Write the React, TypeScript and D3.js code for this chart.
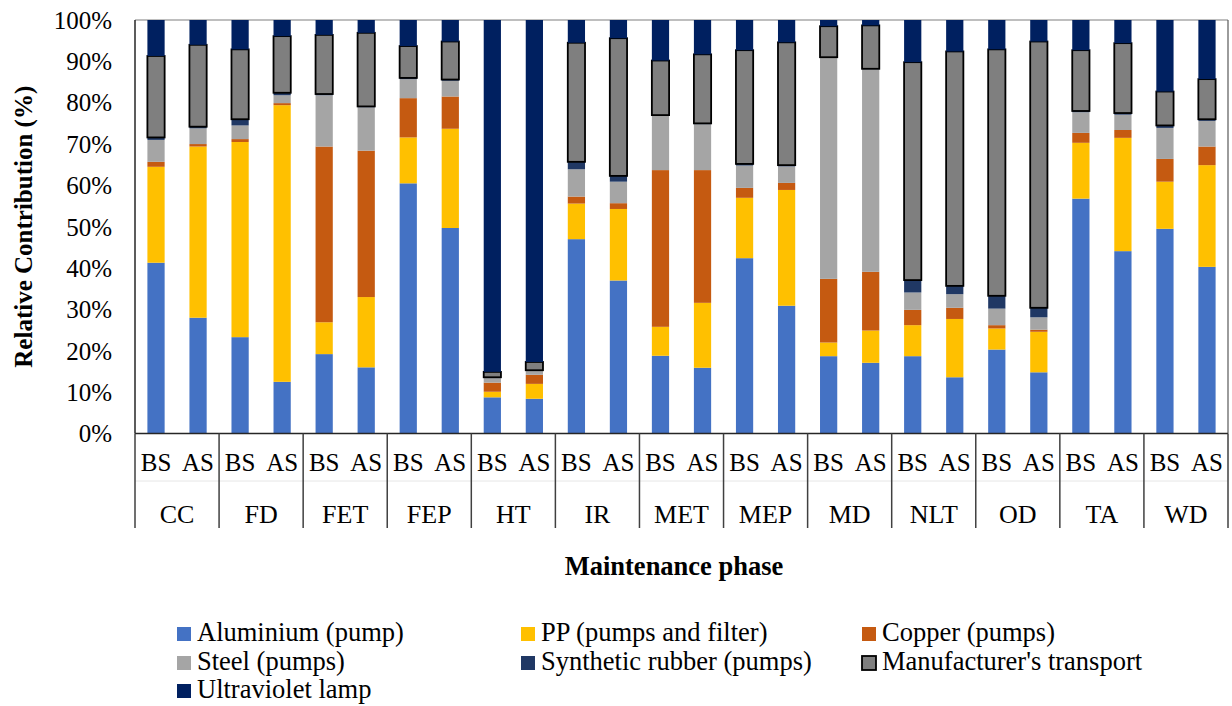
import React from "react";
import * as d3 from "d3";

const categories = ["CC", "FD", "FET", "FEP", "HT", "IR", "MET", "MEP", "MD", "NLT", "OD", "TA", "WD"];
const phases = ["BS", "AS"];
const seriesNames = [
  "Aluminium (pump)",
  "PP (pumps and filter)",
  "Copper (pumps)",
  "Steel (pumps)",
  "Synthetic rubber (pumps)",
  "Manufacturer's transport",
  "Ultraviolet lamp",
];
const seriesColors = ["#4472C4", "#FFC000", "#C55A11", "#A5A5A5", "#203864", "#7F7F7F", "#002060"];
const yTicks = [0, 0.1, 0.2, 0.3, 0.4, 0.5, 0.6, 0.7, 0.8, 0.9, 1.0];

// values per bar, order: CC BS, CC AS, FD BS, FD AS, ...
const aluminium = [41.3, 28.0, 23.3, 12.5, 19.2, 16.0, 60.5, 49.7, 8.75, 8.4, 47.0, 37.0, 18.8, 15.9, 42.4, 30.9, 18.7, 17.1, 18.7, 13.6, 20.3, 14.8, 56.8, 44.1, 49.5, 40.3];
const pp = [23.2, 41.4, 47.2, 66.9, 7.7, 17.0, 11.1, 24.0, 1.35, 3.6, 8.6, 17.3, 7.0, 15.7, 14.6, 28.0, 3.3, 7.8, 7.5, 14.1, 5.1, 9.8, 13.5, 27.4, 11.4, 24.6];
const copper = [1.2, 0.6, 0.7, 0.5, 42.5, 35.4, 9.5, 7.8, 2.2, 2.2, 1.7, 1.4, 37.9, 32.1, 2.4, 1.7, 15.4, 14.2, 3.7, 2.7, 0.8, 0.5, 2.4, 1.9, 5.5, 4.5];
const steel = [5.3, 3.8, 3.3, 1.9, 12.4, 10.5, 4.6, 3.8, 1.1, 1.0, 6.6, 5.2, 13.1, 11.1, 5.4, 4.0, 53.5, 49.0, 4.2, 3.3, 4.0, 3.0, 5.0, 3.7, 7.5, 6.2];
const rubber = [0.6, 0.4, 1.5, 0.6, 0.3, 0.2, 0.3, 0.3, 0.2, 0.1, 1.8, 1.4, 0.2, 0.2, 0.4, 0.3, 0.1, 0.1, 3.0, 2.0, 3.1, 2.3, 0.3, 0.4, 0.6, 0.4];
const transport = [19.7, 19.8, 16.9, 13.7, 14.3, 17.8, 7.7, 9.2, 1.3, 2.0, 28.8, 33.3, 13.2, 16.7, 27.5, 29.7, 7.5, 10.5, 52.7, 56.7, 59.6, 64.4, 14.7, 16.9, 8.2, 9.7];
const uvLamp = [8.7, 6.0, 7.1, 3.9, 3.6, 3.1, 6.3, 5.2, 85.1, 82.7, 5.5, 4.4, 9.8, 8.3, 7.3, 5.4, 1.5, 1.3, 10.2, 7.6, 7.1, 5.2, 7.3, 5.6, 17.3, 14.3];

const seriesValues = [aluminium, pp, copper, steel, rubber, transport, uvLamp];

const W = 1232;
const H = 706;
const left = 135;
const right = 1228;
const top = 20;
const bottom = 433.5;
const FONT = '"Liberation Serif", "Times New Roman", Times, "DejaVu Serif", serif';

export default function App() {
  const barKeys: string[] = [];
  categories.forEach((c) => phases.forEach((p) => barKeys.push(c + "|" + p)));

  const rows = barKeys.map((k, i) => {
    const r: any = { key: k };
    seriesNames.forEach((s, j) => (r[s] = seriesValues[j][i]));
    return r;
  });

  const stack = d3.stack<any>().keys(seriesNames).offset(d3.stackOffsetExpand);
  const layers = stack(rows);

  const xBar = d3.scaleBand<string>().domain(barKeys).range([left, right]).paddingInner(0.59).paddingOuter(0.295);
  const xGroup = d3.scaleBand<string>().domain(categories).range([left, right]).padding(0);
  const y = d3.scaleLinear().domain([0, 1]).range([bottom, top]);

  const legendCols = [177, 521, 862];
  const legendRows = [641, 670, 698];
  const ts = { fontFamily: FONT };

  return (
    <svg width={W} height={H} style={{ position: "absolute", left: 0, top: 0, background: "#fff", fontFamily: FONT }}>
      <rect x={0} y={0} width={W} height={H} fill="#fff" />
      {/* plot frame */}
      <line x1={left} x2={right} y1={top} y2={top} stroke="#7f7f7f" strokeWidth={1.2} />
      <line x1={right} x2={right} y1={top} y2={bottom} stroke="#595959" strokeWidth={1.2} />

      {/* bars */}
      {layers.map((layer, li) => (
        <g key={layer.key}>
          {layer.map((d, i) => {
            const x = xBar(barKeys[i])!;
            const y0 = y(d[0]);
            const y1 = y(d[1]);
            const isTransport = li === 5;
            return (
              <rect
                key={i}
                x={x}
                y={y1}
                width={xBar.bandwidth()}
                height={Math.max(0, y0 - y1)}
                fill={seriesColors[li]}
                stroke={isTransport ? "#000" : "none"}
                strokeWidth={isTransport ? 1.8 : 0}
              />
            );
          })}
        </g>
      ))}

      {/* y axis */}
      <line x1={left} x2={left} y1={top} y2={bottom} stroke="#262626" strokeWidth={1.5} />
      {yTicks.map((t) => (
        <text key={t} x={112} y={y(t)} dy="0.35em" textAnchor="end" fontSize={25} fill="#000" style={ts}>
          {d3.format(".0%")(t)}
        </text>
      ))}
      <text
        transform={`translate(32, ${(top + bottom) / 2}) rotate(-90)`}
        textAnchor="middle"
        fontSize={25}
        fontWeight="bold"
        fill="#000"
        style={ts}
      >
        Relative Contribution  (%)
      </text>

      {/* x axis */}
      <line x1={left} x2={right} y1={bottom} y2={bottom} stroke="#262626" strokeWidth={1.5} />
      <line x1={left} x2={right} y1={481} y2={481} stroke="#e6e6e6" strokeWidth={1} />
      {categories.map((c) => (
        <line key={"sep" + c} x1={xGroup(c)!} x2={xGroup(c)!} y1={bottom} y2={528} stroke="#404040" strokeWidth={1.5} />
      ))}
      <line x1={right} x2={right} y1={bottom} y2={528} stroke="#404040" strokeWidth={1.5} />
      {barKeys.map((k) => (
        <text key={"lab" + k} x={xBar(k)! + xBar.bandwidth() / 2} y={471} textAnchor="middle" fontSize={25} fill="#000" style={ts}>
          {k.split("|")[1]}
        </text>
      ))}
      {categories.map((c) => (
        <text key={"cat" + c} x={xGroup(c)! + xGroup.bandwidth() / 2} y={523} textAnchor="middle" fontSize={26} fill="#000" style={ts}>
          {c}
        </text>
      ))}
      <text x={674} y={575} textAnchor="middle" fontSize={26.5} fontWeight="bold" fill="#000" style={ts}>
        Maintenance phase
      </text>

      {/* legend */}
      {seriesNames.map((s, i) => {
        const cx = legendCols[i % 3];
        const cy = legendRows[Math.floor(i / 3)];
        const isTransport = i === 5;
        return (
          <g key={"leg" + s}>
            <rect
              x={cx}
              y={cy - 14}
              width={14}
              height={14}
              fill={seriesColors[i]}
              stroke={isTransport ? "#000" : "none"}
              strokeWidth={isTransport ? 1.8 : 0}
            />
            <text x={cx + 20} y={cy} fontSize={26.5} fill="#000" style={ts}>
              {s}
            </text>
          </g>
        );
      })}
    </svg>
  );
}
